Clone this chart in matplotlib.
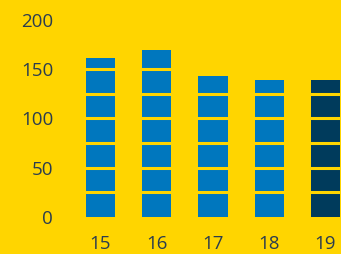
import matplotlib.pyplot as plt
import numpy as np

years = ['15', '16', '17', '18', '19']
values = [161, 169, 143, 139, 139]
colors = ['#0077be', '#0077be', '#0077be', '#0077be', '#003b5c']
yticks = [0, 50, 100, 150, 200]
bands = [25, 50, 75, 100, 125, 150, 175]

bg = '#ffd500'
txt = '#2b3d4f'

fig = plt.figure(figsize=(3.41, 2.54), dpi=100, facecolor=bg)
ax = fig.add_axes([60 / 341, 37 / 254, 281 / 341, 207 / 254])
ax.set_facecolor(bg)

x = np.arange(len(years))
ax.bar(x, values, width=0.52, color=colors, zorder=2)

# yellow separators across the bars
for b in bands:
    ax.axhline(b, color=bg, lw=2.2, zorder=3)

ax.set_xlim(-0.72, 4.276)
ax.set_ylim(0, 209.7)
ax.set_xticks(x)
ax.set_xticklabels(years)
ax.set_yticks(yticks)

for s in ax.spines.values():
    s.set_visible(False)
ax.tick_params(axis='both', length=0, labelsize=13.5, colors=txt)
ax.tick_params(axis='y', pad=5)
ax.tick_params(axis='x', pad=13)
for lab in ax.get_xticklabels() + ax.get_yticklabels():
    lab.set_fontfamily('Open Sans')

fig.savefig('out.png', dpi=100, facecolor=bg)
